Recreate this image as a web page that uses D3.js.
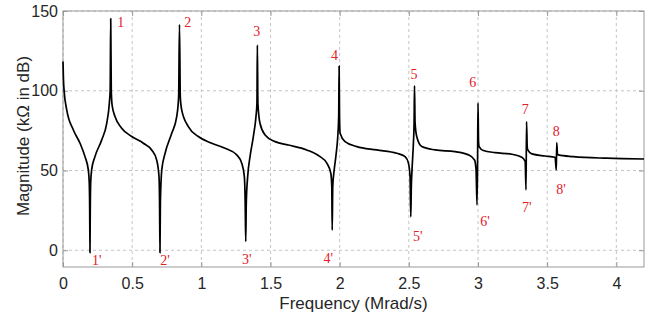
<!DOCTYPE html>
<html>
<head>
<meta charset="utf-8">
<script src="https://cdn.jsdelivr.net/npm/d3@7"></script>
<style>
  body { margin: 0; background: #fff; }
</style>
</head>
<body>
<div id="area_chart"></div>
<script>
// curve: frequency (Mrad/s) and magnitude (dB)
const freq = [0.000, 0.003, 0.008, 0.027, 0.075, 0.123, 0.159, 0.183, 0.190, 0.193, 0.195, 0.197, 0.200, 0.207, 0.231, 0.280, 0.316, 0.335, 0.341, 0.345,
  0.349, 0.355, 0.376, 0.424, 0.497, 0.581, 0.641, 0.677, 0.694, 0.698, 0.701, 0.704, 0.714, 0.738, 0.786, 0.822, 0.836, 0.842, 0.848, 0.858,
  0.906, 0.978, 1.075, 1.171, 1.256, 1.292, 1.311, 1.317, 1.321, 1.325, 1.335, 1.352, 1.376, 1.395, 1.402, 1.405, 1.409, 1.424, 1.461, 1.533,
  1.629, 1.762, 1.858, 1.907, 1.936, 1.943, 1.946, 1.950, 1.960, 1.974, 1.986, 1.993, 1.996, 1.999, 2.003, 2.039, 2.124, 2.268, 2.413, 2.473,
  2.497, 2.509, 2.514, 2.518, 2.523, 2.533, 2.538, 2.541, 2.545, 2.557, 2.594, 2.690, 2.834, 2.931, 2.975, 2.986, 2.993, 2.997, 3.000, 3.004,
  3.008, 3.039, 3.124, 3.244, 3.317, 3.341, 3.347, 3.351, 3.356, 3.360, 3.389, 3.485, 3.557, 3.566, 3.569, 3.575, 3.581, 3.690, 3.931, 4.200];
const magnitude = [118.3, 108, 100, 88, 75.4, 67.1, 58.7, 50.4, 42, 25, -1.5, 25, 42, 50.4, 58.7, 69.2, 79.6, 92.2, 100.5, 145.2,
  100, 91, 83.8, 76.5, 71.3, 67.1, 62.9, 56.6, 46.2, 30, -1.5, 30, 50.4, 60.8, 73.3, 83.8, 96.3, 141.5, 96, 88,
  77.5, 71.3, 67.1, 64, 59.8, 54.6, 46.2, 30, 5.5, 30, 46.2, 58.7, 71.3, 83.8, 92.2, 128.6, 92, 79.6, 72.3, 68.1,
  66, 62.9, 58.7, 54.6, 48.3, 40, 12.6, 40, 50, 60, 71, 84, 115.5, 84, 73.3, 68.1, 65, 62.9, 60.8, 58.7,
  54.6, 46, 21, 40, 50.4, 67.1, 79.6, 103.1, 80, 71.3, 65, 62.9, 61.8, 59.8, 56.6, 50.4, 28.4, 56.6, 92.2, 68,
  65, 62.5, 61.2, 60.2, 58.3, 55.6, 37.8, 80.6, 64.5, 62.9, 60.4, 59.1, 58.3, 50.3, 67.5, 60, 59.8, 58.7, 57.7, 57.2];

const xTicks = [0, 0.5, 1, 1.5, 2, 2.5, 3, 3.5, 4];
const yTicks = [0, 50, 100, 150];

// resonance (peak) and anti-resonance (dip) annotations, in data units
const peakNames = ["1", "2", "3", "4", "5", "6", "7", "8"];
const peakX = [0.417, 0.902, 1.401, 1.962, 2.538, 2.962, 3.341, 3.565];
const peakY = [143.3, 143.3, 137.7, 122.4, 110.5, 105.3, 88.4, 75];
const dipNames = ["1'", "2'", "3'", "4'", "5'", "6'", "7'", "8'"];
const dipX = [0.244, 0.738, 1.328, 1.918, 2.565, 3.051, 3.353, 3.601];
const dipY = [-6, -6, -5.6, -5, 8.6, 18, 27, 38.3];

function drawChart(){
    let dimensions = {
        width: 655,
        height: 320,
        margin: { top: 11, left: 63, right: 11, bottom: 53 }
    };
    dimensions.boundedWidth = dimensions.width - dimensions.margin.left - dimensions.margin.right;
    dimensions.boundedHeight = dimensions.height - dimensions.margin.top - dimensions.margin.bottom;

    const svg = d3.select("#area_chart").append("svg")
        .attr("width", dimensions.width)
        .attr("height", dimensions.height)
        .style("font-family", "'Liberation Sans', Arial, sans-serif");

    const bounded = svg.append("g")
        .attr("transform", `translate(${dimensions.margin.left},${dimensions.margin.top})`);

    const xScale = d3.scaleLinear().domain([0, 4.2]).range([0, dimensions.boundedWidth]);
    const yScale = d3.scaleLinear().domain([-10.5, 150]).range([dimensions.boundedHeight, 0]);

    const gridColor = "#c4c4c4";
    const boxColor = "#9a9a9a";

    // dashed grid
    bounded.append("g").selectAll("line").data(xTicks).join("line")
        .attr("x1", d => xScale(d)).attr("x2", d => xScale(d))
        .attr("y1", 0).attr("y2", dimensions.boundedHeight)
        .attr("stroke", gridColor).attr("stroke-dasharray", "3,3");
    bounded.append("g").selectAll("line").data(yTicks).join("line")
        .attr("x1", 0).attr("x2", dimensions.boundedWidth)
        .attr("y1", d => yScale(d)).attr("y2", d => yScale(d))
        .attr("stroke", gridColor).attr("stroke-dasharray", "3,3");

    // axes with inward ticks
    const xAxis = d3.axisBottom(xScale).tickValues(xTicks).tickFormat(d => String(d))
        .tickSizeInner(-5).tickSizeOuter(0).tickPadding(11);
    const yAxis = d3.axisLeft(yScale).tickValues(yTicks).tickFormat(d => String(d))
        .tickSizeInner(-5).tickSizeOuter(0).tickPadding(5);

    const gx = bounded.append("g")
        .attr("transform", `translate(0,${dimensions.boundedHeight})`)
        .call(xAxis);
    const gy = bounded.append("g").call(yAxis);

    const gxTop = bounded.append("g").call(d3.axisTop(xScale).tickValues(xTicks).tickFormat("").tickSizeInner(-5).tickSizeOuter(0));
    const gyRight = bounded.append("g")
        .attr("transform", `translate(${dimensions.boundedWidth},0)`)
        .call(d3.axisRight(yScale).tickValues(yTicks).tickFormat("").tickSizeInner(-5).tickSizeOuter(0));

    [gx, gy, gxTop, gyRight].forEach(g => {
        g.select(".domain").remove();
        g.selectAll(".tick line").attr("stroke", boxColor);
        g.selectAll("text")
            .attr("fill", "#262626")
            .style("font-size", "16px")
            .style("font-family", "'Liberation Sans', Arial, sans-serif");
    });

    bounded.append("rect")
        .attr("width", dimensions.boundedWidth)
        .attr("height", dimensions.boundedHeight)
        .attr("fill", "none")
        .attr("stroke", boxColor);

    // the curve
    const points = d3.zip(freq, magnitude);
    const lineGenerator = d3.line()
        .x(d => xScale(d[0]))
        .y(d => yScale(d[1]))
        .curve(d3.curveMonotoneX);

    bounded.append("path")
        .attr("d", lineGenerator(points))
        .attr("fill", "none")
        .attr("stroke", "#000")
        .attr("stroke-width", 1.7)
        .attr("stroke-linejoin", "round");

    // red numbers
    const labelData = d3.zip(peakNames, peakX, peakY).concat(d3.zip(dipNames, dipX, dipY));
    bounded.append("g").selectAll("text").data(labelData).join("text")
        .attr("x", d => xScale(d[1]))
        .attr("y", d => yScale(d[2]))
        .attr("text-anchor", "middle")
        .attr("dy", "0.35em")
        .attr("fill", "#e3202a")
        .style("font-family", "'Liberation Serif', 'Times New Roman', serif")
        .style("font-size", "14px")
        .text(d => d[0]);

    // axis titles
    svg.append("text")
        .attr("x", dimensions.margin.left + dimensions.boundedWidth / 2)
        .attr("y", 309)
        .attr("text-anchor", "middle")
        .attr("fill", "#262626")
        .style("font-size", "17px")
        .text("Frequency (Mrad/s)");

    svg.append("text")
        .attr("transform", "translate(29,136) rotate(-90)")
        .attr("text-anchor", "middle")
        .attr("fill", "#262626")
        .style("font-size", "17px")
        .text("Magnitude (k\u03A9 in dB)");
}

drawChart()
</script>
</body>
</html>
